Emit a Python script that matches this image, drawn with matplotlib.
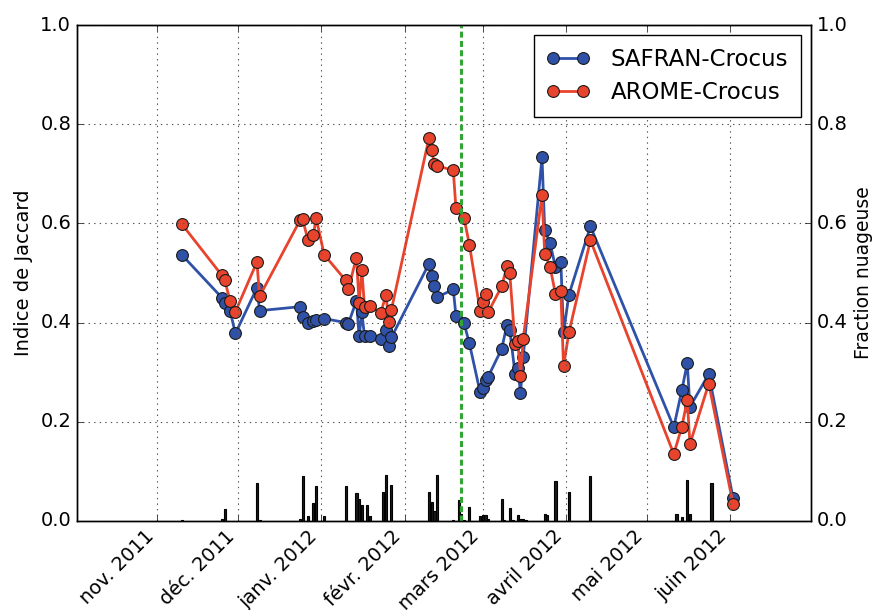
import datetime as dt
import matplotlib
matplotlib.use("Agg")
import matplotlib.pyplot as plt

plt.style.use('classic')

# dates of the satellite images
dates = ['2011-11-10', '2011-11-25', '2011-11-26', '2011-11-28', '2011-11-30',
         '2011-12-08', '2011-12-09', '2011-12-24', '2011-12-25', '2011-12-27',
         '2011-12-29', '2011-12-30', '2012-01-02', '2012-01-10', '2012-01-11',
         '2012-01-14', '2012-01-15', '2012-01-16', '2012-01-17', '2012-01-19',
         '2012-01-23', '2012-01-25', '2012-01-26', '2012-01-27', '2012-02-10',
         '2012-02-11', '2012-02-12', '2012-02-13', '2012-02-19', '2012-02-20',
         '2012-02-23', '2012-02-25', '2012-02-29', '2012-03-01', '2012-03-02',
         '2012-03-03', '2012-03-08', '2012-03-10', '2012-03-11', '2012-03-13',
         '2012-03-14', '2012-03-15', '2012-03-16', '2012-03-23', '2012-03-24',
         '2012-03-26', '2012-03-28', '2012-03-30', '2012-03-31', '2012-04-02',
         '2012-04-10', '2012-05-11', '2012-05-14', '2012-05-16', '2012-05-17',
         '2012-05-24', '2012-06-02']

safran = [0.537, 0.450, 0.440, 0.424, 0.378, 0.470, 0.424, 0.432, 0.412, 0.400,
          0.404, 0.406, 0.408, 0.400, 0.398, 0.444, 0.372, 0.421, 0.372, 0.372,
          0.366, 0.385, 0.352, 0.370, 0.519, 0.493, 0.473, 0.451, 0.467, 0.414,
          0.399, 0.358, 0.259, 0.269, 0.285, 0.291, 0.347, 0.396, 0.386, 0.296,
          0.309, 0.257, 0.331, 0.733, 0.587, 0.560, 0.512, 0.522, 0.380, 0.456,
          0.594, 0.189, 0.264, 0.318, 0.230, 0.296, 0.047]

arome = [0.599, 0.495, 0.486, 0.444, 0.422, 0.522, 0.453, 0.606, 0.608, 0.566,
         0.576, 0.611, 0.537, 0.485, 0.468, 0.531, 0.440, 0.506, 0.432, 0.434,
         0.419, 0.456, 0.401, 0.426, 0.773, 0.747, 0.719, 0.716, 0.707, 0.631,
         0.611, 0.557, 0.423, 0.441, 0.457, 0.421, 0.473, 0.514, 0.500, 0.357,
         0.362, 0.293, 0.367, 0.657, 0.539, 0.512, 0.458, 0.463, 0.312, 0.380,
         0.566, 0.135, 0.190, 0.244, 0.155, 0.277, 0.035]

# cloud fraction
cloud_dates = ['2011-11-10', '2011-11-25', '2011-11-26', '2011-12-08', '2011-12-09',
               '2011-12-24', '2011-12-25', '2011-12-27', '2011-12-29', '2011-12-30',
               '2012-01-02', '2012-01-10', '2012-01-14', '2012-01-15', '2012-01-16',
               '2012-01-18', '2012-01-19', '2012-01-24', '2012-01-25', '2012-01-27',
               '2012-02-10', '2012-02-11', '2012-02-12', '2012-02-13', '2012-02-19',
               '2012-02-21', '2012-02-22', '2012-02-23', '2012-02-25', '2012-02-29',
               '2012-03-01', '2012-03-02', '2012-03-03', '2012-03-08', '2012-03-09',
               '2012-03-11', '2012-03-12', '2012-03-14', '2012-03-15', '2012-03-16',
               '2012-03-17', '2012-03-24', '2012-03-25', '2012-03-28', '2012-04-02',
               '2012-04-10', '2012-05-12', '2012-05-14', '2012-05-16', '2012-05-17',
               '2012-05-25']
cloud = [0.002, 0.003, 0.024, 0.076, 0.002, 0.003, 0.091, 0.009, 0.036, 0.071,
         0.010, 0.071, 0.057, 0.044, 0.032, 0.032, 0.009, 0.059, 0.093, 0.073,
         0.059, 0.038, 0.021, 0.093, 0.002, 0.042, 0.015, 0.002, 0.028, 0.009,
         0.012, 0.011, 0.003, 0.044, 0.002, 0.026, 0.002, 0.011, 0.003, 0.004,
         0.002, 0.015, 0.011, 0.081, 0.059, 0.090, 0.015, 0.007, 0.082, 0.015,
         0.077]

month_ticks = ['2011-11-01', '2011-12-01', '2012-01-01', '2012-02-01', '2012-03-01',
               '2012-04-01', '2012-05-01', '2012-06-01']
month_labels = ['nov. 2011', 'déc. 2011', 'janv. 2012', 'févr. 2012', 'mars 2012',
                'avril 2012', 'mai 2012', 'juin 2012']

event_date = '2012-02-22'


def to_dt(ls):
    return [dt.datetime.strptime(s, '%Y-%m-%d') for s in ls]


x = to_dt(dates)
xc = to_dt(cloud_dates)
x0, x1 = dt.datetime(2011, 10, 2), dt.datetime(2012, 7, 1)

fig = plt.figure(figsize=(8.72, 6.10), dpi=100, facecolor='white')
ax = fig.add_axes([0.088, 0.146, 0.842, 0.813])

ax.plot(x, safran, '-o', color='#2f52a8', mfc='#2f52a8', mec='#1a1a1a', mew=0.8,
        ms=8.5, lw=2, label='SAFRAN-Crocus')
ax.plot(x, arome, '-o', color='#e8432d', mfc='#e8432d', mec='#1a1a1a', mew=0.8,
        ms=8.5, lw=2, label='AROME-Crocus')

ax.set_ylim(0, 1)
ax.set_yticks([0, 0.2, 0.4, 0.6, 0.8, 1.0])
ax.set_xlim(x0, x1)
ax.set_xticks(to_dt(month_ticks))
ax.set_xticklabels(month_labels, rotation=45, ha='right', fontsize=14)
ax.tick_params(axis='y', labelsize=14)
ax.set_ylabel('Indice de Jaccard', fontsize=14)
ax.grid(True, color='#555555', linestyle=':', linewidth=0.8)

leg = ax.legend(loc='upper right', fontsize=16.5, numpoints=2, borderaxespad=0.45,
                handlelength=1.9, borderpad=0.55, handletextpad=0.9,
                labelspacing=0.45)
leg.get_frame().set_edgecolor('k')

# cloud fraction on the right axis
ax2 = ax.twinx()
ax2.bar(xc, cloud, width=0.8, color='#1a1a1a', edgecolor='k', linewidth=0.8)
ax2.axvline(dt.datetime.strptime(event_date, '%Y-%m-%d'), color='#33a535',
            linestyle='--', lw=2.2, dashes=(4.3, 2.4))
ax2.set_ylim(0, 1)
ax2.set_yticks([0, 0.2, 0.4, 0.6, 0.8, 1.0])
ax2.set_xlim(x0, x1)
ax2.tick_params(axis='y', labelsize=14)
ax2.set_ylabel('Fraction nuageuse', fontsize=13.5)

fig.savefig('out.png', dpi=100, facecolor='white')
